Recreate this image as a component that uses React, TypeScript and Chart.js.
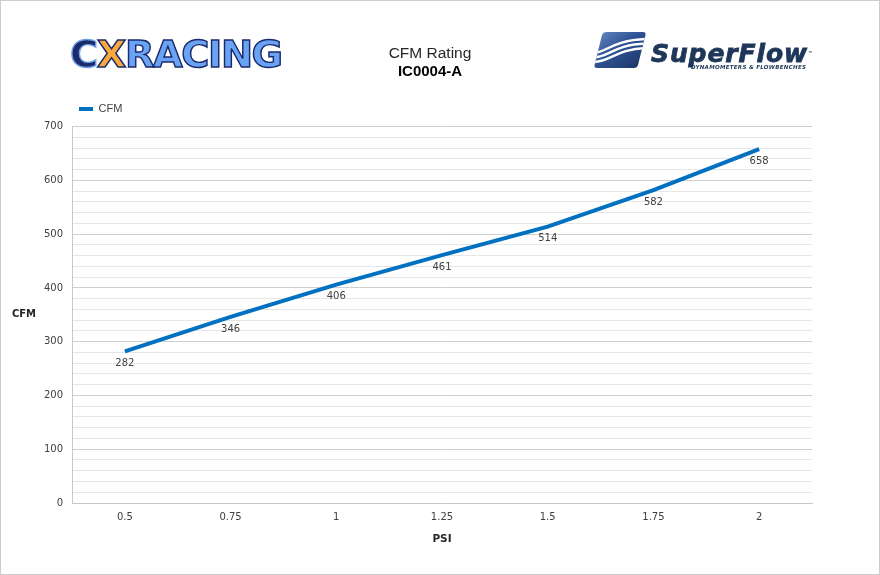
import React, { useEffect, useRef } from "react";
import { Chart, registerables } from "chart.js";

Chart.register(...registerables);

const categories = ["0.5", "0.75", "1", "1.25", "1.5", "1.75", "2"];
const cfmValues = [282, 346, 406, 461, 514, 582, 658];
const seriesName = "CFM";
const titleText = "CFM Rating";
const subtitleText = "IC0004-A";
const xTitle = "PSI";
const yTitle = "CFM";
const yMax = 700;
const yStep = 20;
const yLabelStep = 100;

const LINE_COLOR = "#0070c0";
const TICK_FONT = "'DejaVu Sans', Verdana, sans-serif";
const TEXT_FONT = "'Liberation Sans', Arial, sans-serif";

const dataLabelPlugin = {
  id: "dataLabels",
  afterDatasetsDraw(chart: any) {
    const ctx = chart.ctx;
    const meta = chart.getDatasetMeta(0);
    const data = chart.data.datasets[0].data as number[];
    ctx.save();
    ctx.font = `10px ${TICK_FONT}`;
    ctx.fillStyle = "#404040";
    ctx.textAlign = "center";
    ctx.textBaseline = "middle";
    meta.data.forEach((pt: any, i: number) => {
      ctx.fillText(String(data[i]), pt.x, pt.y + 12);
    });
    ctx.restore();
  },
};

const yTitlePlugin = {
  id: "yTitleHorizontal",
  afterDraw(chart: any) {
    const ctx = chart.ctx;
    const area = chart.chartArea;
    ctx.save();
    ctx.font = `bold 10px ${TICK_FONT}`;
    ctx.fillStyle = "#262626";
    ctx.textAlign = "center";
    ctx.textBaseline = "middle";
    ctx.fillText(yTitle, 23, (area.top + area.bottom) / 2);
    ctx.restore();
  },
};

// layout tweaks: legend starts near the plot's left edge; y labels not clipped
const layoutTweakPlugin = {
  id: "layoutTweak",
  afterLayout(chart: any) {
    if (chart.scales.y) chart.scales.y.left = 0;
  },
  beforeDraw(chart: any) {
    if (chart.legend) {
      chart.legend.left = chart.chartArea.left - 3;
      if (!chart.legend.__shifted) {
        chart.legend.top -= 2;
        chart.legend.__shifted = true;
      }
    }
  },
};

function CxLogo() {
  const letters = [
    { t: "C", fill: "#1a2a6c", stroke: "#6f9fe0" },
    { t: "X", fill: "#f8a83c", stroke: "#1a2a6c" },
    { t: "RACING", fill: "#6aa2f4", stroke: "#1a2a6c" },
  ];
  return (
    <div
      style={{
        position: "absolute",
        left: 69,
        top: 30,
        transform: "scale(0.96, 0.95)",
        transformOrigin: "0 0",
        fontFamily: "'DejaVu Sans', sans-serif",
        fontWeight: 900,
        fontSize: 40,
        lineHeight: "48px",
        whiteSpace: "nowrap",
        letterSpacing: -1.5,
      }}
    >
      {letters.map((l, i) => (
        <span
          key={i}
          style={{ color: l.fill, WebkitTextStroke: `1.5px ${l.stroke}` } as any}
        >
          {l.t}
        </span>
      ))}
    </div>
  );
}

function SuperFlowLogo() {
  return (
    <>
      <svg
        width={54}
        height={38}
        viewBox="0 0 54 38"
        style={{ position: "absolute", left: 592, top: 30 }}
      >
        <defs>
          <linearGradient id="sfg" x1="0" y1="0" x2="1" y2="1">
            <stop offset="0" stopColor="#6a8cc4" />
            <stop offset="0.45" stopColor="#2f5394" />
            <stop offset="1" stopColor="#1b3263" />
          </linearGradient>
          <clipPath id="sfc">
            <path d="M14 1 H50 Q53 1 52.5 4 L45 34 Q44 37 41 37 H4 Q1 37 1.6 34 L9 4 Q10 1 14 1 Z" />
          </clipPath>
        </defs>
        <path
          d="M14 1 H50 Q53 1 52.5 4 L45 34 Q44 37 41 37 H4 Q1 37 1.6 34 L9 4 Q10 1 14 1 Z"
          fill="url(#sfg)"
        />
        <g clipPath="url(#sfc)" stroke="#ffffff" strokeWidth={2.4} fill="none">
          <path d="M0 22 C14 22 18 9 54 8" />
          <path d="M0 26.5 C16 26.5 20 13.5 54 12.5" />
          <path d="M0 31 C18 31 22 18 54 17" />
        </g>
      </svg>
      <div
        style={{
          position: "absolute",
          left: 650,
          top: 38,
          fontFamily: "'DejaVu Sans', sans-serif",
          fontWeight: 700,
          fontStyle: "italic",
          fontSize: 25,
          lineHeight: "29px",
          color: "#1e3659",
          letterSpacing: 0.9,
          whiteSpace: "nowrap",
          WebkitTextStroke: "0.8px #1e3659",
        } as any}
      >
        SuperFlow<span style={{ fontSize: 5, verticalAlign: "top", WebkitTextStroke: "0px" } as any}>™</span>
      </div>
      <div
        style={{
          position: "absolute",
          left: 690,
          top: 63,
          fontFamily: "'DejaVu Sans', sans-serif",
          fontWeight: 700,
          fontStyle: "italic",
          fontSize: 5.5,
          lineHeight: "6px",
          color: "#1e3659",
          letterSpacing: 0.3,
          whiteSpace: "nowrap",
        }}
      >
        DYNAMOMETERS &amp; FLOWBENCHES
      </div>
    </>
  );
}

export default function App() {
  const canvasRef = useRef<HTMLCanvasElement | null>(null);

  useEffect(() => {
    document.body.style.margin = "0";
    if (!canvasRef.current) return;
    const chart = new Chart(canvasRef.current, {
      type: "line",
      data: {
        labels: categories,
        datasets: [
          {
            label: seriesName,
            data: cfmValues,
            borderColor: LINE_COLOR,
            backgroundColor: LINE_COLOR,
            borderWidth: 4,
            pointRadius: 0,
            tension: 0,
            fill: false,
          },
        ],
      },
      options: {
        animation: false,
        responsive: false,
        maintainAspectRatio: false,
        layout: { padding: { left: 47, right: 67, top: 43, bottom: 0 } },
        plugins: {
          title: {
            display: true,
            text: titleText,
            color: "#262626",
            font: { family: TEXT_FONT, size: 15.5, weight: "normal" },
            padding: { top: 0, bottom: 0 },
          },
          subtitle: {
            display: true,
            text: subtitleText,
            color: "#000000",
            font: { family: TEXT_FONT, size: 15, weight: "bold" },
            padding: { top: 0, bottom: 15 },
          },
          legend: {
            display: true,
            position: "top",
            align: "start",
            labels: {
              usePointStyle: true,
              pointStyle: "line",
              pointStyleWidth: 14,
              boxHeight: 11,
              color: "#404040",
              font: { family: TEXT_FONT, size: 11 },
              padding: 10,
            },
          },
          tooltip: { enabled: false },
        },
        scales: {
          x: {
            type: "category",
            offset: true,
            grid: { display: false, drawTicks: false },
            border: { display: true, color: "#c8c8c8", width: 1 },
            ticks: {
              color: "#404040",
              font: { family: TICK_FONT, size: 10 },
              padding: 8,
            },
            title: {
              display: true,
              text: xTitle,
              color: "#262626",
              font: { family: TICK_FONT, size: 10.5, weight: "bold" },
              padding: { top: 4, bottom: 28 },
            },
            afterFit(scale: any) {
              scale.height = 71;
            },
          },
          y: {
            min: 0,
            max: yMax,
            grid: {
              drawTicks: false,
              color: (c: any) =>
                c.tick && c.tick.value % yLabelStep === 0 ? "#cfcfcf" : "#e6e6e6",
              lineWidth: 1,
            },
            border: { display: true, color: "#c8c8c8", width: 1 },
            ticks: {
              stepSize: yStep,
              autoSkip: false,
              color: "#404040",
              font: { family: TICK_FONT, size: 10 },
              padding: 9,
              callback: (v: any) => (Number(v) % yLabelStep === 0 ? String(v) : ""),
            },
            afterFit(scale: any) {
              scale.width = 24;
            },
          },
        },
      },
      plugins: [dataLabelPlugin, yTitlePlugin, layoutTweakPlugin],
    } as any);
    return () => chart.destroy();
  }, []);

  return (
    <div
      style={{
        position: "relative",
        width: 880,
        height: 575,
        boxSizing: "border-box",
        border: "1px solid #cccccc",
        background: "#ffffff",
        overflow: "hidden",
      }}
    >
      <canvas ref={canvasRef} width={878} height={573} style={{ display: "block" }} />
      <CxLogo />
      <SuperFlowLogo />
    </div>
  );
}
